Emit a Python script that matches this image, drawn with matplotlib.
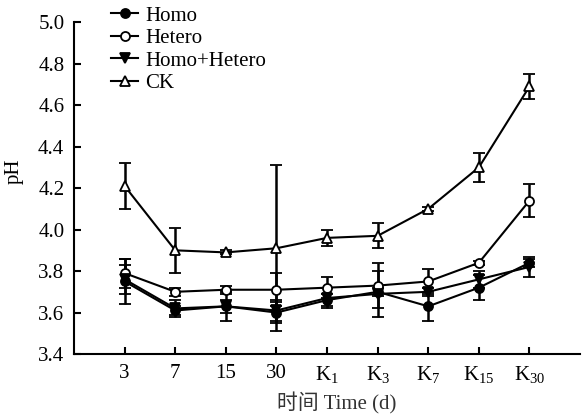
import matplotlib.pyplot as plt
import numpy as np

plt.rcParams['font.family'] = ['Liberation Serif', 'Noto Sans CJK SC']
plt.rcParams['mathtext.fontset'] = 'custom'
plt.rcParams['mathtext.rm'] = 'Liberation Serif'
plt.rcParams['mathtext.it'] = 'Liberation Serif'

labels = ['3', '7', '15', '30', 'K$_{1}$', 'K$_{3}$', 'K$_{7}$', 'K$_{15}$', 'K$_{30}$']

homo = [3.75, 3.61, 3.63, 3.60, 3.66, 3.70, 3.63, 3.72, 3.84]
homo_err = [0.11, 0.02, 0.03, 0.05, 0.03, 0.02, 0.07, 0.06, 0.02]

hetero = [3.79, 3.70, 3.71, 3.71, 3.72, 3.73, 3.75, 3.84, 4.14]
hetero_err = [0.07, 0.02, 0.02, 0.08, 0.05, 0.11, 0.06, 0.01, 0.08]

homo_hetero = [3.76, 3.62, 3.63, 3.61, 3.67, 3.69, 3.70, 3.76, 3.82]
homo_hetero_err = [0.07, 0.04, 0.07, 0.05, 0.05, 0.11, 0.02, 0.04, 0.05]

ck = [4.21, 3.90, 3.89, 3.91, 3.96, 3.97, 4.10, 4.30, 4.69]
ck_err = [0.11, 0.11, 0.01, 0.40, 0.04, 0.06, 0.01, 0.07, 0.06]

x = np.arange(1, len(labels) + 1)

fig = plt.figure(figsize=(5.83, 4.18), dpi=100)
ax = fig.add_axes([0.127, 0.153, 0.868, 0.794])

common = dict(color='black', linewidth=1.5, markersize=6.5, elinewidth=1.8,
              capsize=4, capthick=1.8, markeredgewidth=1.3)
ax.errorbar(x, homo, yerr=homo_err, marker='o', mfc='black', label='Homo', **common)
ax.errorbar(x, hetero, yerr=hetero_err, marker='o', mfc='white', label='Hetero', **common)
ax.errorbar(x, homo_hetero, yerr=homo_hetero_err, marker='v', mfc='black', label='Homo+Hetero', **common)
ax.errorbar(x, ck, yerr=ck_err, marker='^', mfc='white', label='CK', **common)

ax.set_xlim(0, 10)
ax.set_ylim(3.4, 5.0)
ax.set_yticks(np.arange(3.4, 5.01, 0.2))
ax.set_yticklabels(['%.1f' % v for v in np.arange(3.4, 5.01, 0.2)])
ax.set_xticks(x)
ax.set_xticklabels(labels)

ax.spines['top'].set_visible(False)
ax.spines['right'].set_visible(False)
for s in ['left', 'bottom']:
    ax.spines[s].set_linewidth(1.5)
ax.tick_params(direction='in', length=5, width=1.5, labelsize=15, pad=7)

ax.set_ylabel('pH', fontsize=15)
ax.yaxis.set_label_coords(-0.1, 0.55)
ax.set_xlabel('时间 Time (d)', fontsize=15, color='#333333')
ax.xaxis.set_label_coords(0.52, -0.115)

handles, labs = ax.get_legend_handles_labels()
handles = [h[0] for h in handles]
fig.legend(handles, labs, loc='upper left', bbox_to_anchor=(111 / 583, 1 - 6 / 418),
           frameon=False, fontsize=15, borderpad=0, borderaxespad=0,
           labelspacing=0.14, handlelength=1.3, handletextpad=0.35)

fig.savefig('out.png', dpi=100)
